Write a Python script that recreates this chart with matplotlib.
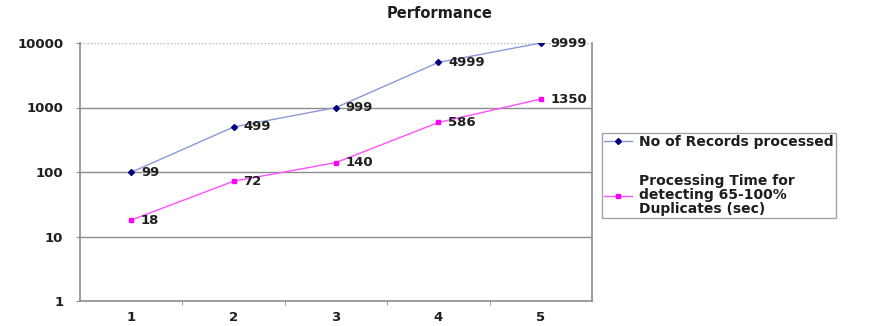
import matplotlib
matplotlib.use("Agg")
import matplotlib.pyplot as plt
from matplotlib.ticker import FixedLocator, NullLocator

categories = [1, 2, 3, 4, 5]
records = [99, 499, 999, 4999, 9999]
proc_time = [18, 72, 140, 586, 1350]
y_ticks = [1, 10, 100, 1000, 10000]
series_names = ["No of Records processed",
                "Processing Time for\ndetecting 65-100%\nDuplicates (sec)"]

plt.rcParams['font.family'] = ['DejaVu Sans']
TXT = '#1e1e1e'

fig = plt.figure(figsize=(8.7, 3.26), dpi=100)
ax = fig.add_axes([80 / 870, 1 - 301 / 326, 512 / 870, 258 / 326])

ax.set_yscale('log')
ax.set_ylim(1, 10000)
ax.set_xlim(0.5, 5.5)

# grid lines at the decades
for v in y_ticks[1:-1]:
    ax.axhline(v, color='#8c8c8c', lw=1.0, zorder=1)
ax.axhline(10000, color='#b4b4b4', lw=1.0, ls=(0, (1, 1.5)), zorder=1)

l1, = ax.plot(categories, records, color='#8a98d8', lw=1.0, marker='D',
              ms=3, mfc='#000080', mec='#000080', zorder=3)
l2, = ax.plot(categories, proc_time, color='#ff50ff', lw=1.0, marker='s',
              ms=3.2, mfc='#ff00ff', mec='#ff00ff', zorder=3)

for series in (records, proc_time):
    for x, v in zip(categories, series):
        ax.annotate(str(v), (x, v), xytext=(7, 0), textcoords='offset points',
                    va='center', ha='left', fontsize=9.5, fontweight='bold', color=TXT)

ax.yaxis.set_major_locator(FixedLocator(y_ticks))
ax.yaxis.set_minor_locator(NullLocator())
ax.set_yticklabels([str(t) for t in y_ticks])
ax.set_xticks(categories)
ax.set_xticklabels([str(c) for c in categories])
ax.set_xticks([1.5, 2.5, 3.5, 4.5], minor=True)
ax.tick_params(axis='x', which='major', length=0, pad=7)
ax.tick_params(axis='x', which='minor', length=3, color='#8c8c8c', direction='out')
ax.tick_params(axis='y', length=3, color='#8c8c8c', direction='out', pad=9)
for lab in ax.get_xticklabels() + ax.get_yticklabels():
    lab.set_fontsize(9.5)
    lab.set_fontweight('bold')
    lab.set_color(TXT)

for side in ['left', 'bottom', 'right']:
    ax.spines[side].set_color('#8c8c8c')
    ax.spines[side].set_linewidth(1.2)
ax.spines['top'].set_visible(False)

fig.text(440 / 870, 1 - 14 / 326, "Performance", ha='center', va='center',
         fontsize=10.5, fontweight='bold', color=TXT)

leg = fig.legend([l1, l2], series_names, loc='upper left',
                 bbox_to_anchor=(602 / 870, 1 - 133 / 326), frameon=True,
                 fancybox=False, prop={'size': 10, 'weight': 'bold'},
                 handlelength=2.0, handletextpad=0.5, labelspacing=1.8,
                 borderpad=0.15, borderaxespad=0)
leg.get_frame().set_edgecolor('#8c8c8c')
leg.get_frame().set_linewidth(1.0)
for t in leg.get_texts():
    t.set_color(TXT)
    t.set_linespacing(1.0)

fig.savefig("out.png", dpi=100)
